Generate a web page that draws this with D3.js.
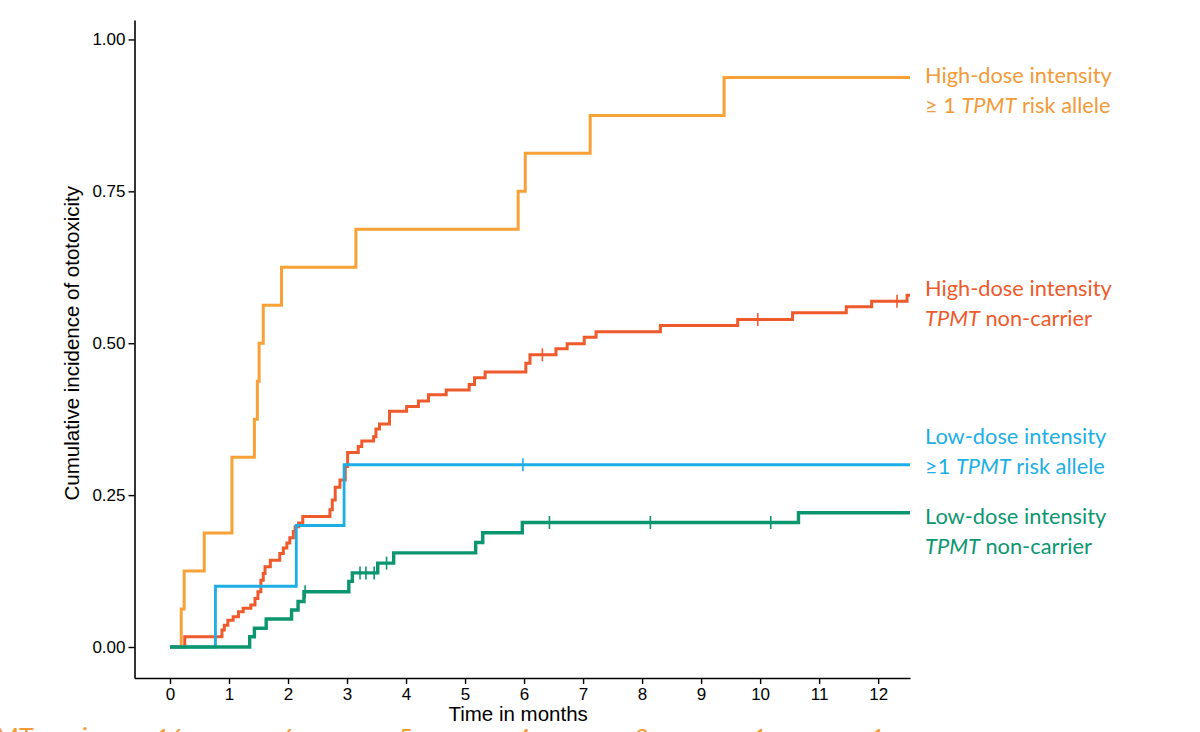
<!DOCTYPE html>
<html>
<head>
<meta charset="utf-8">
<script src="https://cdn.jsdelivr.net/npm/d3@7"></script>
<style>
  body { margin: 0; background: #fff; }
  svg { display: block; }
</style>
</head>
<body>
<script>
// Event times (months) and cumulative incidence reached at each event
const hiRiskTimes  = [0.19, 0.24, 0.58, 1.05, 1.43, 1.48, 1.51, 1.58, 1.89, 3.15, 5.90, 6.02, 7.12, 9.39];
const hiRiskValues = [0.0625, 0.125, 0.1875, 0.3125, 0.375, 0.4375, 0.5, 0.5625, 0.625, 0.6875, 0.75, 0.8125, 0.875, 0.9375];
const hiRiskCensor = [];

const hiNonTimes  = [0.25, 0.88, 0.92, 0.98, 1.07, 1.16, 1.24, 1.37, 1.44, 1.49, 1.54, 1.58, 1.61, 1.70,
                     1.86, 1.92, 1.98, 2.03, 2.09, 2.12, 2.18, 2.25, 2.71, 2.75, 2.80, 2.88, 2.97, 3.01,
                     3.19, 3.25, 3.45, 3.49, 3.55, 3.72, 4.01, 4.21, 4.38, 4.68, 5.07, 5.16, 5.34, 6.03,
                     6.10, 6.54, 6.73, 7.02, 7.22, 8.31, 9.62, 10.55, 11.46, 11.89, 12.49];
const hiNonValues = [0.017, 0.028, 0.036, 0.044, 0.050, 0.058, 0.064, 0.069, 0.080, 0.091, 0.110, 0.121, 0.132, 0.143,
                     0.154, 0.163, 0.171, 0.180, 0.190, 0.198, 0.204, 0.215, 0.226, 0.242, 0.263, 0.275, 0.297, 0.320,
                     0.330, 0.339, 0.346, 0.359, 0.367, 0.388, 0.396, 0.405, 0.415, 0.423, 0.432, 0.443, 0.4525, 0.467,
                     0.481, 0.491, 0.499, 0.510, 0.519, 0.529, 0.539, 0.550, 0.560, 0.569, 0.579];
const hiNonCensor = [6.31, 9.96, 12.32];

const loRiskTimes  = [0.77, 2.14, 2.95];
const loRiskValues = [0.1, 0.2, 0.3];
const loRiskCensor = [5.98];

const loNonTimes  = [1.35, 1.43, 1.63, 2.06, 2.17, 2.27, 3.03, 3.09, 3.52, 3.79, 5.18, 5.30, 5.97, 10.65];
const loNonValues = [0.017, 0.031, 0.046, 0.061, 0.075, 0.091, 0.108, 0.122, 0.138, 0.155, 0.172, 0.188, 0.205, 0.221];
const loNonCensor = [2.29, 3.22, 3.32, 3.46, 3.67, 6.43, 8.14, 10.18];

const followUpEnd = 12.6;

const xTicks = [0, 1, 2, 3, 4, 5, 6, 7, 8, 9, 10, 11, 12];
const yTicks = [0, 0.25, 0.5, 0.75, 1];

// number at risk, high-dose TPMT carriers, every 2 months
const riskTimes  = [0, 2, 4, 6, 8, 10, 12];
const riskCounts = [16, 6, 5, 4, 2, 1, 1];

const series = [
  {times: hiRiskTimes, values: hiRiskValues, censor: hiRiskCensor, color: "#F7A137", width: 3},
  {times: hiNonTimes,  values: hiNonValues,  censor: hiNonCensor,  color: "#EE5A2B", width: 3},
  {times: loRiskTimes, values: loRiskValues, censor: loRiskCensor, color: "#1CAEE4", width: 2.8},
  {times: loNonTimes,  values: loNonValues,  censor: loNonCensor,  color: "#0B9670", width: 3.4}
];

const W = 1200, H = 732;
const margin = {top: 20, left: 134.5},
      width = 775.5,
      height = 658;

const svg = d3.select("body").append("svg")
  .attr("width", W)
  .attr("height", H);

const g = svg.append("g")
  .attr("transform", "translate(" + margin.left + "," + margin.top + ")");

const x = d3.scaleLinear().domain([-0.6017, 12.54]).range([0, width]);
const y = d3.scaleLinear().domain([-0.051, 1.032]).range([height, 0]);

g.append("clipPath").attr("id", "panel")
  .append("rect").attr("width", width).attr("height", height);

// axes
const xAxis = g.append("g")
  .attr("transform", "translate(0," + height + ")")
  .call(d3.axisBottom(x).tickValues(xTicks).tickSize(6).tickPadding(4).tickSizeOuter(0));

const yAxis = g.append("g")
  .call(d3.axisLeft(y).tickValues(yTicks).tickFormat(d3.format(".2f")).tickSize(6).tickPadding(3).tickSizeOuter(0));

[xAxis, yAxis].forEach(a => {
  a.select(".domain").attr("stroke", "#000").attr("stroke-width", 1.6);
  a.selectAll(".tick line").attr("stroke", "#000").attr("stroke-width", 1.4);
  a.selectAll(".tick text")
    .attr("fill", "#000")
    .style("font-family", "'Liberation Sans', Arial, sans-serif")
    .style("font-size", "17px");
});

g.append("text")
  .attr("x", x(5.9))
  .attr("y", height + 43)
  .attr("text-anchor", "middle")
  .style("font-family", "'Liberation Sans', Arial, sans-serif")
  .style("font-size", "20.5px")
  .text("Time in months");

g.append("text")
  .attr("transform", "translate(-56," + y(0.5) + ") rotate(-90)")
  .attr("text-anchor", "middle")
  .style("font-family", "'Liberation Sans', Arial, sans-serif")
  .style("font-size", "20.5px")
  .text("Cumulative incidence of ototoxicity");

// step curves
const line = d3.line()
  .x(d => x(d[0]))
  .y(d => y(d[1]))
  .curve(d3.curveStepAfter);

const curves = g.append("g").attr("clip-path", "url(#panel)");

series.forEach(s => {
  const pts = [[0, 0]].concat(s.times.map((t, i) => [t, s.values[i]]));
  pts.push([followUpEnd, s.values[s.values.length - 1]]);
  curves.append("path")
    .datum(pts)
    .attr("fill", "none")
    .attr("stroke", s.color)
    .attr("stroke-width", s.width)
    .attr("stroke-linejoin", "miter")
    .attr("d", line);

  const valueAt = t => {
    const i = d3.bisectRight(s.times, t);
    return i === 0 ? 0 : s.values[i - 1];
  };
  curves.selectAll(null)
    .data(s.censor)
    .enter()
    .append("line")
      .attr("x1", d => x(d))
      .attr("x2", d => x(d))
      .attr("y1", d => y(valueAt(d)) - 6.5)
      .attr("y2", d => y(valueAt(d)) + 6.5)
      .attr("stroke", s.color)
      .attr("stroke-width", 1.6);
});

// curve labels
const labels = [
  {y: 83,  color: "#F39A38", lines: [["High-dose intensity"], ["≥ 1 ", "TPMT", " risk allele"]]},
  {y: 296, color: "#EE5A2B", lines: [["High-dose intensity"], ["", "TPMT", " non-carrier"]]},
  {y: 444, color: "#1CAEE4", lines: [["Low-dose intensity"], ["≥1 ", "TPMT", " risk allele"]]},
  {y: 524, color: "#0B9670", lines: [["Low-dose intensity"], ["", "TPMT", " non-carrier"]]}
];

labels.forEach(l => {
  l.lines.forEach((parts, i) => {
    const t = svg.append("text")
      .attr("x", 925)
      .attr("y", l.y + i * 29.5)
      .attr("fill", l.color)
      .style("font-family", "Lato, 'Open Sans', sans-serif")
      .style("font-size", "21.8px");
    parts.forEach((p, j) => {
      t.append("tspan")
        .style("font-style", j === 1 ? "italic" : "normal")
        .text(p);
    });
  });
});

// number-at-risk row (cut by the bottom edge)
svg.append("text")
  .attr("x", 121)
  .attr("y", 746)
  .attr("text-anchor", "end")
  .attr("fill", "#F39A38")
  .style("font-family", "Lato, 'Open Sans', sans-serif")
  .style("font-size", "25px")
  .text("≥1 TPMT carriers");

svg.selectAll(".risk")
  .data(riskTimes)
  .enter()
  .append("text")
    .attr("class", "risk")
    .attr("x", d => margin.left + x(d))
    .attr("y", 746)
    .attr("text-anchor", "middle")
    .attr("fill", "#F39A38")
    .style("font-family", "Lato, 'Open Sans', sans-serif")
    .style("font-size", "24px")
    .text((d, i) => riskCounts[i]);
</script>
</body>
</html>
